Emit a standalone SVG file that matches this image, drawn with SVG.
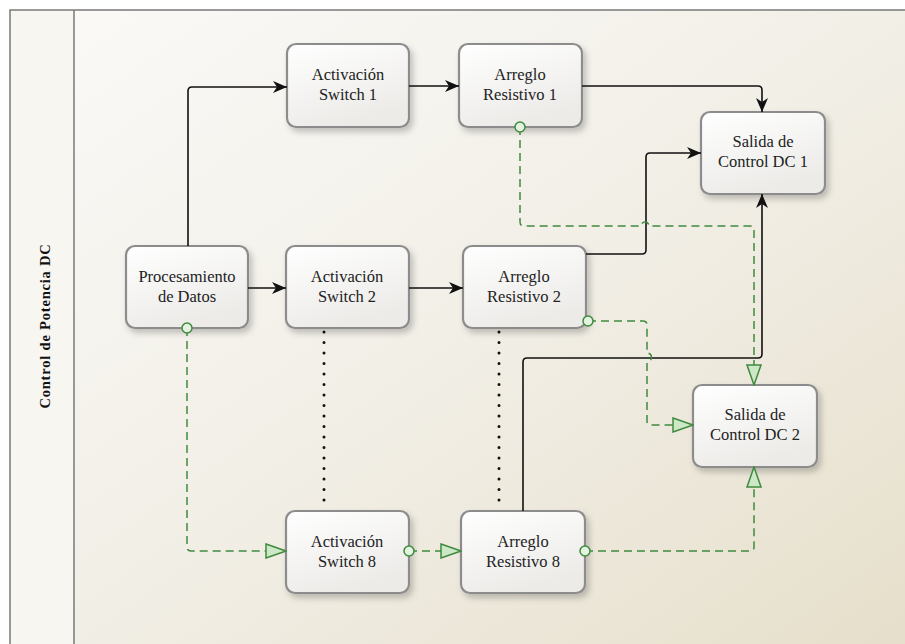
<svg xmlns="http://www.w3.org/2000/svg" width="905" height="644" viewBox="0 0 905 644">
<defs>
<linearGradient id="bg" x1="0" y1="0" x2="1" y2="1">
<stop offset="0" stop-color="#fbfaf8"/>
<stop offset="0.5" stop-color="#f2efe7"/>
<stop offset="1" stop-color="#e6dfcb"/>
</linearGradient>
<linearGradient id="box" x1="0" y1="0" x2="0.4" y2="1">
<stop offset="0" stop-color="#ffffff"/>
<stop offset="1" stop-color="#ecebe8"/>
</linearGradient>
<filter id="sh" x="-20%" y="-20%" width="150%" height="150%">
<feDropShadow dx="3" dy="4" stdDeviation="3" flood-color="#000" flood-opacity="0.22"/>
</filter>
<marker id="ab" viewBox="0 0 14 12" refX="14" refY="6" markerWidth="14" markerHeight="12" orient="auto" markerUnits="userSpaceOnUse">
<path d="M0,0 L14,6 L0,12 L4,6 Z" fill="#111"/>
</marker>
<marker id="tg" viewBox="0 0 22 16" refX="21" refY="8" markerWidth="22" markerHeight="16" orient="auto" markerUnits="userSpaceOnUse">
<path d="M1,1 L21,8 L1,15 Z" fill="#cde8c6" stroke="#3f8a3f" stroke-width="1.5" stroke-dasharray="none"/>
</marker>
<marker id="cg" viewBox="0 0 14 14" refX="7" refY="7" markerWidth="14" markerHeight="14" orient="auto" markerUnits="userSpaceOnUse">
<circle cx="7" cy="7" r="5" fill="#e4f2e0" stroke="#3f8a3f" stroke-width="1.5" stroke-dasharray="none"/>
</marker>
</defs>
<style>
.node rect{fill:url(#box);stroke:#8c8c8c;stroke-width:2.2;filter:url(#sh)}
.node text{font-family:'Liberation Serif','Times New Roman',serif;font-size:16.5px;fill:#222;text-anchor:middle}
.blk{fill:none;stroke:#111;stroke-width:1.6;marker-end:url(#ab)}
.grn{fill:none;stroke:#3f8a3f;stroke-width:1.5;stroke-dasharray:8 5;marker-start:url(#cg);marker-end:url(#tg)}
.dot{fill:none;stroke:#111;stroke-width:3;stroke-dasharray:0 10.5;stroke-linecap:round}
.frame{fill:none;stroke:#7a7a7a;stroke-width:1.5}
</style>
<rect x="0" y="0" width="905" height="644" fill="#ffffff"/>
<rect x="10" y="10" width="895" height="634" fill="url(#bg)"/>
<rect x="10" y="10" width="64" height="634" fill="#f8f6f1"/>
<path class="frame" d="M10,644 V10 H905 M74,10 V644"/>
<text x="50" y="326" transform="rotate(-90 50 326)" text-anchor="middle" font-family="'Liberation Serif','Times New Roman',serif" font-weight="bold" font-size="14.5" letter-spacing="0.8" fill="#111">Control de Potencia DC</text>

<g font-family="'Liberation Serif','Times New Roman',serif">
<g id="procesamiento" class="node"><rect x="126" y="246" width="122" height="82" rx="9"/><text x="187" y="282">Procesamiento</text><text x="187" y="302">de Datos</text></g>
<g id="act1" class="node"><rect x="287" y="44" width="122" height="83" rx="9"/><text x="348" y="80">Activación</text><text x="348" y="100">Switch 1</text></g>
<g id="arr1" class="node"><rect x="459" y="44" width="123" height="83" rx="9"/><text x="520" y="80">Arreglo</text><text x="520" y="100">Resistivo 1</text></g>
<g id="act2" class="node"><rect x="286" y="246" width="123" height="82" rx="9"/><text x="347" y="282">Activación</text><text x="347" y="302">Switch 2</text></g>
<g id="arr2" class="node"><rect x="463" y="246" width="123" height="82" rx="9"/><text x="524" y="282">Arreglo</text><text x="524" y="302">Resistivo 2</text></g>
<g id="act8" class="node"><rect x="286" y="511" width="123" height="82" rx="9"/><text x="347" y="547">Activación</text><text x="347" y="567">Switch 8</text></g>
<g id="arr8" class="node"><rect x="461" y="511" width="124" height="82" rx="9"/><text x="523" y="547">Arreglo</text><text x="523" y="567">Resistivo 8</text></g>
<g id="dc1" class="node"><rect x="701" y="112" width="124" height="82" rx="9"/><text x="763" y="147">Salida de</text><text x="763" y="167">Control DC 1</text></g>
<g id="dc2" class="node"><rect x="693" y="385" width="124" height="82" rx="9"/><text x="755" y="420">Salida de</text><text x="755" y="440">Control DC 2</text></g>
</g>

<g id="connectors">
<path class="blk" d="M188,246 V91 Q188,87 192,87 H287"/>
<path class="blk" d="M409,86 H459"/>
<path class="blk" d="M582,86 H758 Q762,86 762,90 V112"/>
<path class="blk" d="M586,254 H642 Q646,254 646,250 V157 Q646,153 650,153 H701"/>
<path class="blk" d="M523,511 V362 Q523,358 527,358 H758 Q762,358 762,354 V194"/>
<path class="blk" d="M248,288 H286"/>
<path class="blk" d="M409,288 H463"/>
<path class="dot" d="M324,332 V509"/>
<path class="dot" d="M499,332 V509"/>
<path class="grn" d="M520,127 V222 Q520,226 524,226 H641 a4,4 0 0 1 8,0 H750 Q754,226 754,230 V385"/>
<path class="grn" d="M588,321 H643 Q647,321 647,325 V353 a4.5,4.5 0 0 1 0,9 V421 Q647,425 651,425 H693"/>
<path class="grn" d="M187,328 V547 Q187,551 191,551 H286"/>
<path class="grn" d="M409,551 H461"/>
<path class="grn" d="M585,551 H750 Q754,551 754,547 V467"/>
</g>
</svg>
